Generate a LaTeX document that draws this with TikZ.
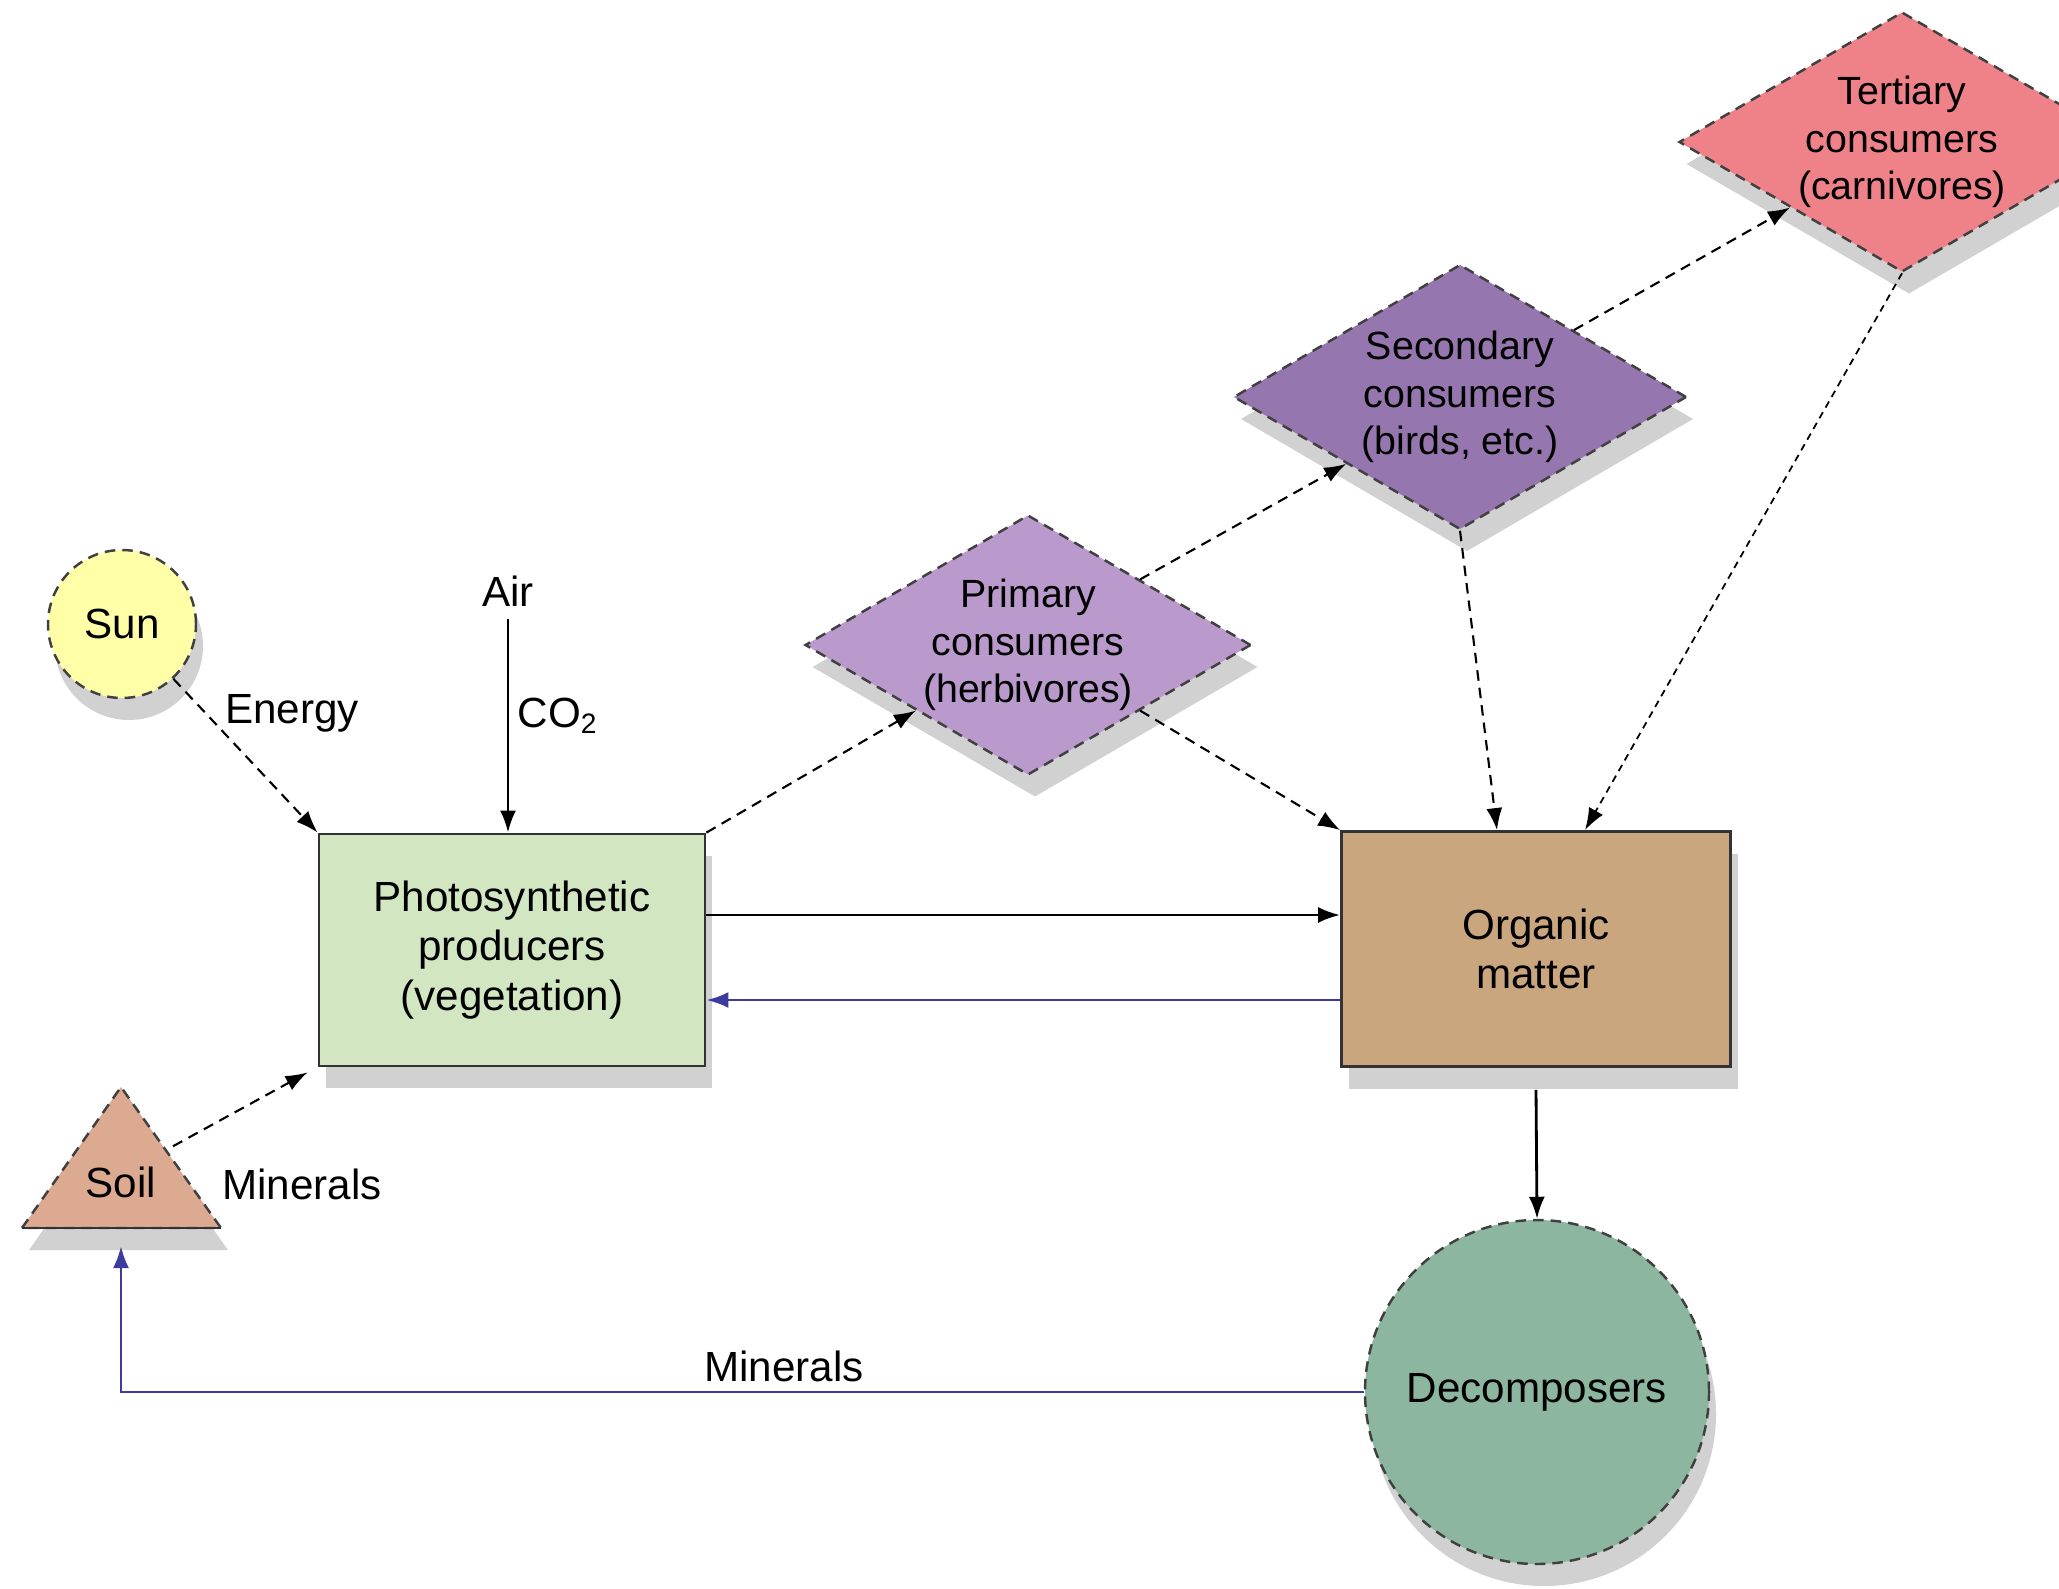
\documentclass[tikz,border=0pt]{standalone}
\usepackage{fontspec}
\setmainfont{Liberation Sans}
\usetikzlibrary{arrows.meta,positioning,shapes.geometric,shadows,calc}
\definecolor{sunyellow}{HTML}{FFFFA8}
\definecolor{photogreen}{HTML}{D2E6C2}
\definecolor{organictan}{HTML}{C9A67E}
\definecolor{primpurple}{HTML}{BA9ACC}
\definecolor{secpurple}{HTML}{9676AE}
\definecolor{terpink}{HTML}{EE8288}
\definecolor{soiltan}{HTML}{DCAA90}
\definecolor{decgreen}{HTML}{8DB6A0}
\definecolor{flowblue}{HTML}{3C3CA0}

\begin{document}
\begin{tikzpicture}[
  font=\fontsize{12}{14}\selectfont,
  shadowed/.style={drop shadow={shadow xshift=0.7mm, shadow yshift=-2.2mm,
    fill=black!30, opacity=0.6}},
  box/.style={draw=black!80, line width=0.8pt, minimum width=3.86cm,
    minimum height=2.32cm, align=center, shadowed},
  consumer/.style={diamond, draw=black!75, densely dashed, line width=0.7pt,
    minimum width=4.46cm, minimum height=2.6cm, aspect=1.715, inner sep=0pt,
    align=center, font=\fontsize{11.2}{13.5}\selectfont, shadowed},
  blob/.style={circle, draw=black!75, densely dashed, line width=0.7pt,
    align=center, inner sep=0pt, shadowed},
  arr/.style={-{Latex[length=2.2mm, width=1.6mm]}, line width=0.8pt},
  darr/.style={arr, dash pattern=on 3pt off 2pt, line width=0.6pt},
  tarr/.style={arr, dash pattern=on 2pt off 1.5pt, line width=0.5pt},
  barr/.style={arr, flowblue}
]
  \useasboundingbox (0,0) rectangle (20.59,-15.88);
  \clip (0,0) rectangle (20.59,-15.88);

  \node[blob, fill=sunyellow, minimum size=1.48cm] (sun) at (1.22,-6.24) {Sun};
  \node (air) at (5.08,-5.91) {Air};
  \node[box, fill=photogreen] (photo) at (5.12,-9.50)
    {Photosynthetic\\producers\\(vegetation)};
  \node[box, fill=organictan, minimum width=3.89cm, minimum height=2.35cm]
    (organic) at (15.36,-9.49) {Organic\\matter};
  \node[consumer, fill=primpurple] (primary) at (10.28,-6.45)
    {Primary\\consumers\\(herbivores)};
  \node[consumer, fill=secpurple, minimum width=4.53cm, minimum height=2.65cm]
    (secondary) at (14.60,-3.97) {Secondary\\consumers\\(birds, etc.)};
  \node[consumer, fill=terpink] (tertiary) at (19.02,-1.42)
    {Tertiary\\consumers\\(carnivores)};
  \node[blob, fill=decgreen, minimum size=3.44cm] (decomp) at (15.37,-13.92)
    {Decomposers};

  \draw[fill=soiltan, draw=black!75, densely dashed, line width=0.7pt, shadowed]
    (0.22,-12.28) coordinate (soilbl) -- (1.21,-10.87) coordinate (soiltop)
    -- (2.21,-12.28) coordinate (soilbr) -- cycle;
  \draw[black!80, line width=0.8pt] (soilbl) -- (soilbr);
  \coordinate (soilside) at ($(soiltop)!0.42!(soilbr)+(0.1,0)$);
  \coordinate (soilbase) at (1.21,-12.46);
  \node (soil) at (1.21,-11.82) {Soil};

  \node (energy) at (2.92,-7.13) {Energy};
  \node (co2) at (5.58,-7.16) {CO\textsubscript{2}};
  \node (minup) at (3.02,-11.84) {Minerals};
  \node (mindown) at (7.84,-13.66) {Minerals};

  \draw[darr] (sun) -- (photo.north west);
  \draw[arr] (air) -- (air |- photo.north);
  \draw[darr] (soilside) -- ([xshift=-1mm,yshift=-0.5mm]photo.south west);

  \draw[darr] (photo.north east) -- (primary.south west);
  \draw[darr] (primary.north east) -- (secondary.south west);
  \draw[darr] (secondary.north east) -- (tertiary.south west);
  \draw[darr] (primary.south east) -- (organic.north west);
  \draw[darr] (secondary.south) -- ([xshift=-3.9mm]organic.north);
  \draw[tarr] (tertiary.south) -- ([xshift=4.9mm]organic.north);

  \draw[arr] ([yshift=3.5mm]photo.east) -- ([yshift=3.5mm]photo.east -| organic.west);
  \draw[barr] ([yshift=-5.1mm]organic.west) -- ([yshift=-5.1mm]organic.west -| photo.east);
  \draw[arr] ([yshift=-2.2mm]organic.south) -- (decomp.north);
  \draw[barr] (decomp.west) -| (soilbase);
\end{tikzpicture}
\end{document}
